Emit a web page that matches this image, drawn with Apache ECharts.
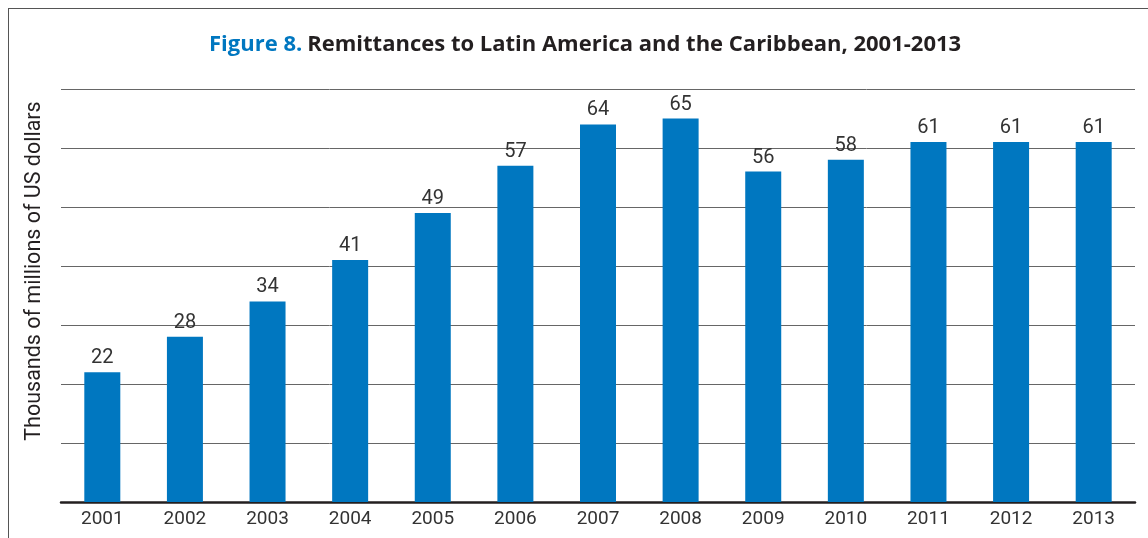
<!DOCTYPE html>
<html>
<head>
<meta charset="utf-8">
<script src="https://cdn.jsdelivr.net/npm/echarts@6/dist/echarts.min.js"></script>
<style>
  html, body { margin: 0; padding: 0; background: #fff; }
  #chart { width: 1148px; height: 538px; }
</style>
</head>
<body>
<div id="chart"></div>
<script>
// Remittances received by Latin America and the Caribbean (thousands of millions of US dollars)
const years = ['2001', '2002', '2003', '2004', '2005', '2006', '2007', '2008', '2009', '2010', '2011', '2012', '2013'];
const remittances = [22, 28, 34, 41, 49, 57, 64, 65, 56, 58, 61, 61, 61];
const yTicks = [0, 10, 20, 30, 40, 50, 60, 70];
const yAxisTitle = 'Thousands of millions of US dollars';

const FONT = '"Roboto", "DejaVu Sans Condensed", sans-serif';
const TITLE_FONT = '"Open Sans", "Roboto", sans-serif';
const BLUE = '#0077c0';

const chart = echarts.init(document.getElementById('chart'), null, { renderer: 'canvas' });

chart.setOption({
  animation: false,
  backgroundColor: '#fff',
  title: {
    text: '{a|Figure 8.} {b|Remittances to Latin America and the Caribbean, 2001-2013}',
    left: 209,
    top: 30,
    padding: 0,
    textStyle: {
      rich: {
        a: { fontFamily: TITLE_FONT, fontSize: 22, lineHeight: 30, fontWeight: 'bold', color: BLUE },
        b: { fontFamily: TITLE_FONT, fontSize: 22, lineHeight: 30, fontWeight: 'bold', color: '#231f20' }
      }
    }
  },
  graphic: [
    // frame: top rule and left rule
    { type: 'line', silent: true, shape: { x1: 8, y1: 8.5, x2: 1148, y2: 8.5 }, style: { stroke: '#555', lineWidth: 1 } },
    { type: 'line', silent: true, shape: { x1: 8.5, y1: 8, x2: 8.5, y2: 538 }, style: { stroke: '#555', lineWidth: 1 } },
    // vertical axis title
    {
      type: 'text',
      silent: true,
      x: 35,
      y: 271,
      rotation: Math.PI / 2,
      style: {
        text: yAxisTitle,
        fontFamily: FONT,
        fontSize: 21.5,
        fill: '#231f20',
        textAlign: 'center',
        textVerticalAlign: 'middle'
      }
    }
  ],
  grid: { left: 61, right: 13, top: 89, bottom: 36 },
  xAxis: {
    type: 'category',
    data: years,
    axisLine: { show: true, lineStyle: { color: '#231f20', width: 2.5 } },
    axisTick: { show: false },
    axisLabel: { fontFamily: FONT, fontSize: 19, color: '#333', margin: 8 }
  },
  yAxis: {
    type: 'value',
    min: yTicks[0],
    max: yTicks[yTicks.length - 1],
    interval: yTicks[1] - yTicks[0],
    axisLine: { show: false },
    axisTick: { show: false },
    axisLabel: { show: false },
    splitLine: { show: true, lineStyle: { color: '#666', width: 1 } }
  },
  series: [{
    type: 'bar',
    data: remittances,
    barWidth: 36,
    itemStyle: { color: BLUE },
    label: {
      show: true,
      position: 'top',
      distance: 4,
      fontFamily: FONT,
      fontSize: 20,
      color: '#333'
    }
  }]
});
</script>
</body>
</html>
